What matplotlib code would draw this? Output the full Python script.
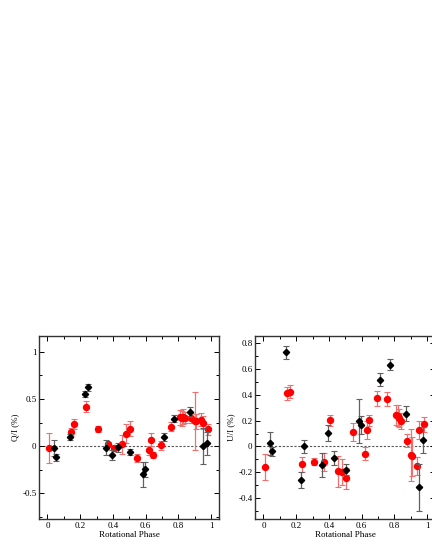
import matplotlib
matplotlib.use("Agg")
import matplotlib.pyplot as plt
from matplotlib.ticker import MultipleLocator

plt.rcParams['font.family'] = ['Liberation Serif', 'DejaVu Serif']

# Black diamonds
ph_k = [0.041, 0.053, 0.139, 0.229, 0.247, 0.355, 0.394, 0.429, 0.503, 0.584, 0.597,
        0.710, 0.773, 0.869, 0.950, 0.976]
q_k = [-0.02, -0.12, 0.095, 0.553, 0.622, -0.018, -0.092, -0.014, -0.064, -0.298, -0.245,
       0.097, 0.292, 0.36, -0.003, 0.03]
qe_k = [0.08, 0.035, 0.03, 0.03, 0.035, 0.08, 0.05, 0.045, 0.035, 0.13, 0.08,
        0.045, 0.035, 0.05, 0.19, 0.12]
u_k = [0.026, -0.036, 0.728, -0.258, 0.0, -0.142, 0.103, -0.09, -0.178, 0.194, 0.163,
       0.514, 0.632, 0.253, -0.315, 0.049]
ue_k = [0.088, 0.035, 0.05, 0.06, 0.05, 0.09, 0.06, 0.055, 0.045, 0.17, 0.07,
        0.05, 0.045, 0.06, 0.18, 0.1]

# Red circles
ph_r = [0.008, 0.141, 0.161, 0.237, 0.310, 0.367, 0.404, 0.457, 0.480, 0.502, 0.548,
        0.621, 0.631, 0.647, 0.695, 0.753, 0.811, 0.823, 0.831, 0.838, 0.875, 0.902,
        0.906, 0.941, 0.952, 0.979]
q_r = [-0.02, 0.15, 0.234, 0.418, 0.181, 0.018, -0.018, 0.021, 0.131, 0.184, -0.126,
       -0.045, 0.069, -0.092, 0.009, 0.207, 0.308, 0.294, 0.31, 0.30, 0.30, 0.268,
       0.262, 0.279, 0.248, 0.178]
qe_r = [0.16, 0.04, 0.05, 0.06, 0.03, 0.03, 0.03, 0.1, 0.1, 0.08, 0.045,
        0.05, 0.07, 0.03, 0.05, 0.05, 0.08, 0.08, 0.08, 0.06, 0.05, 0.31,
        0.08, 0.07, 0.07, 0.06]
u_r = [-0.157, 0.41, 0.421, -0.139, -0.116, -0.121, 0.201, -0.191, -0.196, -0.245, 0.111,
       -0.057, 0.129, 0.201, 0.372, 0.369, 0.243, 0.237, 0.222, 0.196, 0.046, -0.067,
       -0.077, -0.152, 0.124, 0.17]
ue_r = [0.1, 0.05, 0.05, 0.055, 0.03, 0.07, 0.04, 0.12, 0.1, 0.08, 0.07,
        0.05, 0.07, 0.04, 0.06, 0.055, 0.08, 0.08, 0.07, 0.06, 0.05, 0.2,
        0.15, 0.07, 0.07, 0.055]

W, H = 432, 559
fig = plt.figure(figsize=(W / 100, H / 100), dpi=100)

def make_ax(left_px, ylims, ylabel, major, minor, yvals_k, yerr_k, yvals_r, yerr_r):
    ax = fig.add_axes([left_px / W, 1 - 519.3 / H, 180 / W, (519.3 - 335.7) / H])
    ax.set_xlim(-0.05, 1.05)
    ax.set_ylim(*ylims)
    ax.axhline(0, color='#555555', ls=(0, (2, 1.5)), lw=0.8, zorder=1)
    ax.errorbar(ph_r, yvals_r, yerr=yerr_r, fmt='o', color='#ff0000', ms=4.3,
                ecolor='#f07070', elinewidth=0.9, capsize=2.2, capthick=0.8, zorder=3)
    ax.errorbar(ph_k, yvals_k, yerr=yerr_k, fmt='D', color='black', ms=3.2,
                ecolor='#606060', elinewidth=0.9, capsize=2.2, capthick=0.8, zorder=4)
    ax.xaxis.set_major_locator(MultipleLocator(0.2))
    ax.xaxis.set_minor_locator(MultipleLocator(0.1))
    ax.yaxis.set_major_locator(MultipleLocator(major))
    ax.yaxis.set_minor_locator(MultipleLocator(minor))
    ax.set_xticks([0, 0.2, 0.4, 0.6, 0.8, 1.0])
    ax.set_xticklabels(['0', '0.2', '0.4', '0.6', '0.8', '1'])
    ax.tick_params(which='both', direction='in', top=True, right=True, labelsize=6.5,
                   width=0.7, pad=2)
    ax.tick_params(which='major', length=3.5)
    ax.tick_params(which='minor', length=2)
    for s in ax.spines.values():
        s.set_linewidth(1.0)
        s.set_color('#333333')
    ax.set_xlabel('Rotational Phase', fontsize=6.5, labelpad=1)
    ax.set_ylabel(ylabel, fontsize=6.5, labelpad=2)
    return ax

ax1 = make_ax(39.3, (-0.775, 1.17), 'Q/I (%)', 0.5, 0.25, q_k, qe_k, q_r, qe_r)
ax1.set_yticks([-0.5, 0, 0.5, 1])
ax1.set_yticklabels(['-0.5', '0', '0.5', '1'])
ax2 = make_ax(255.3, (-0.562, 0.855), 'U/I (%)', 0.2, 0.1, u_k, ue_k, u_r, ue_r)
ax2.set_yticks([-0.4, -0.2, 0, 0.2, 0.4, 0.6, 0.8])
ax2.set_yticklabels(['-0.4', '-0.2', '0', '0.2', '0.4', '0.6', '0.8'])

fig.savefig('out.png', dpi=100)
